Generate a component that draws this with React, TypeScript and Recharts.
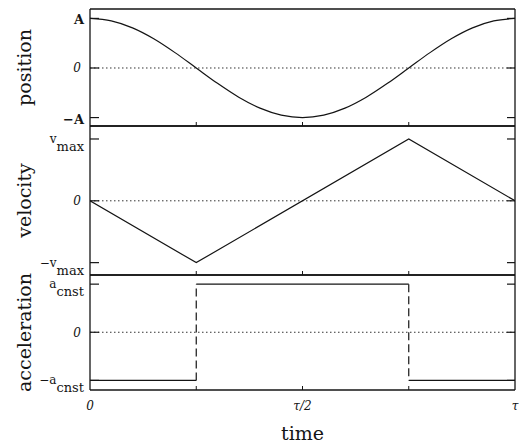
import { LineChart, Line, XAxis, YAxis, ReferenceLine } from "recharts"

const W = 519
const H = 443
const FONT = "DejaVu Serif"
const INK = "#141414"

// time samples, in units of the period τ
const TIME = [0, 0.05, 0.1, 0.15, 0.2, 0.25, 0.3, 0.35, 0.4, 0.45, 0.5, 0.55, 0.6, 0.65, 0.7, 0.75, 0.8, 0.85, 0.9, 0.95, 1]
const POSITION = [1, 0.95, 0.81, 0.59, 0.31, 0, -0.31, -0.59, -0.81, -0.95, -1, -0.95, -0.81, -0.59, -0.31, 0, 0.31, 0.59, 0.81, 0.95, 1]

const VEL_TIME = [0, 0.25, 0.75, 1]
const VELOCITY = [0, -1, 1, 0]

// step edges repeat a time so the jumps can be drawn dashed
const ACC_TIME = [0, 0.25, 0.25, 0.75, 0.75, 1]
const ACCELERATION = [-1, -1, 1, 1, -1, -1]

const Y_TICKS = [-1, 0, 1]
const POS_TICK_LABELS = ["−A", "0", "A"]
const VEL_TICK_LABELS = ["−v_max", "0", "v_max"]
const ACC_TICK_LABELS = ["−a_cnst", "0", "a_cnst"]

const X_TICKS = [0, 0.5, 1]
const X_TICK_LABELS = ["0", "τ/2", "τ"]
const X_MINOR = [0.25, 0.5, 0.75]

const positionData = TIME.map((t, i) => ({ t, v: POSITION[i] }))
const velocityData = VEL_TIME.map((t, i) => ({ t, v: VELOCITY[i] }))
const accPoints = ACC_TIME.map((t, i) => ({ t, v: ACCELERATION[i] }))
const accSolid = [accPoints.slice(0, 2), accPoints.slice(2, 4), accPoints.slice(4, 6)]
const accJumps = [accPoints.slice(1, 3), accPoints.slice(3, 5)]

const PLOT_LEFT = 90
const PLOT_RIGHT = 515

const LeftTick = (props: any) => {
  const { x, y, payload, labels } = props
  const text: string = labels[Y_TICKS.indexOf(payload.value)] ?? ""
  const [main, sub] = text.split("_")
  const isZero = main === "0"
  return (
    <g>
      <line x1={x + 6} x2={x + 15} y1={y} y2={y} stroke={INK} strokeWidth={1.2} />
      <text
        x={isZero ? x - 3 : x}
        y={y}
        textAnchor="end"
        fontFamily={FONT}
        fill={INK}
        fontSize={isZero ? 12 : 13}
        fontStyle={isZero ? "italic" : "normal"}
        fontWeight={!sub && !isZero ? "bold" : "normal"}
      >
        {sub ? (
          <>
            <tspan dy={4} fontSize={12}>{main}</tspan>
            <tspan dy={8}>{sub}</tspan>
          </>
        ) : (
          <tspan dy={isZero ? 4.5 : 6}>{main}</tspan>
        )}
      </text>
    </g>
  )
}

const RightTick = (props: any) => (
  <line x1={props.x - 8} x2={props.x} y1={props.y} y2={props.y} stroke={INK} strokeWidth={1.2} />
)

const TopTick = (props: any) => (
  <line x1={props.x} x2={props.x} y1={props.y} y2={props.y + 4} stroke={INK} strokeWidth={1} />
)

const BottomTick = (props: any) => {
  const { x, y, payload, labelled } = props
  const idx = X_TICKS.indexOf(payload.value)
  return (
    <g>
      {X_MINOR.includes(payload.value) && (
        <line x1={x} x2={x} y1={y} y2={y - 4} stroke={INK} strokeWidth={1} />
      )}
      {labelled && idx >= 0 && (
        <text x={x} y={y + 20} textAnchor="middle" fontFamily={FONT} fontSize={12} fontStyle="italic" fill={INK}>
          {X_TICK_LABELS[idx]}
        </text>
      )}
    </g>
  )
}

interface PanelProps {
  top: number
  bottom: number
  domain: [number, number]
  title: string
  tickLabels: string[]
  withTime?: boolean
  children: React.ReactNode
}

function Panel({ top, bottom, domain, title, tickLabels, withTime, children }: PanelProps) {
  const bottomAxisHeight = withTime ? 40 : 5
  const midY = (top + bottom) / 2
  return (
    <div style={{ position: "absolute", left: 0, top: 0 }}>
      <LineChart
        width={W}
        height={H}
        margin={{ top: top - 5, right: 0, bottom: H - bottom - bottomAxisHeight, left: PLOT_LEFT - 60 }}
      >
        <XAxis
          xAxisId="bottom"
          dataKey="t"
          type="number"
          domain={[0, 1]}
          allowDataOverflow
          ticks={withTime ? [0, 0.25, 0.5, 0.75, 1] : X_MINOR}
          interval={0}
          height={bottomAxisHeight}
          tickSize={0}
          tickMargin={0}
          axisLine={{ stroke: INK, strokeWidth: 1.3 }}
          tickLine={false}
          tick={(p: any) => <BottomTick {...p} labelled={withTime} />}
          label={
            withTime
              ? () => (
                  <text x={(PLOT_LEFT + PLOT_RIGHT) / 2} y={440} textAnchor="middle" fontFamily={FONT} fontSize={19} fill={INK}>
                    time
                  </text>
                )
              : undefined
          }
        />
        <XAxis
          xAxisId="top"
          orientation="top"
          type="number"
          domain={[0, 1]}
          allowDataOverflow
          ticks={X_MINOR}
          interval={0}
          height={5}
          tickSize={0}
          tickMargin={0}
          axisLine={{ stroke: INK, strokeWidth: 1.3 }}
          tickLine={false}
          tick={TopTick}
        />
        <YAxis
          yAxisId="left"
          type="number"
          domain={domain}
          allowDataOverflow
          ticks={Y_TICKS}
          interval={0}
          width={60}
          tickSize={0}
          tickMargin={6}
          axisLine={{ stroke: INK, strokeWidth: 1.3 }}
          tickLine={false}
          tick={(p: any) => <LeftTick {...p} labels={tickLabels} />}
          label={() => (
            <text
              x={24}
              y={midY}
              transform={`rotate(-90 24 ${midY})`}
              textAnchor="middle"
              dominantBaseline="central"
              fontFamily={FONT}
              fontSize={19}
              fill={INK}
            >
              {title}
            </text>
          )}
        />
        <YAxis
          yAxisId="right"
          orientation="right"
          type="number"
          domain={domain}
          allowDataOverflow
          ticks={Y_TICKS}
          interval={0}
          width={4}
          tickSize={0}
          tickMargin={0}
          axisLine={{ stroke: INK, strokeWidth: 1.3 }}
          tickLine={false}
          tick={RightTick}
        />
        <ReferenceLine
          y={0}
          xAxisId="bottom"
          yAxisId="left"
          stroke="#333"
          strokeWidth={1}
          strokeDasharray="1.5 2.5"
        />
        {children}
      </LineChart>
    </div>
  )
}

export default function App() {
  return (
    <div style={{ position: "absolute", left: 0, top: 0, width: W, height: H, background: "#fff" }}>
      <Panel top={9} bottom={126} domain={[-1.17, 1.19]} title="position" tickLabels={POS_TICK_LABELS}>
        <Line
          xAxisId="bottom"
          yAxisId="left"
          data={positionData}
          dataKey="v"
          type="monotone"
          stroke={INK}
          strokeWidth={1.2}
          dot={false}
          isAnimationActive={false}
        />
      </Panel>
      <Panel top={126} bottom={275} domain={[-1.2, 1.21]} title="velocity" tickLabels={VEL_TICK_LABELS}>
        <Line
          xAxisId="bottom"
          yAxisId="left"
          data={velocityData}
          dataKey="v"
          type="linear"
          stroke={INK}
          strokeWidth={1.2}
          dot={false}
          isAnimationActive={false}
        />
      </Panel>
      <Panel top={275} bottom={390} domain={[-1.2, 1.19]} title="acceleration" tickLabels={ACC_TICK_LABELS} withTime>
        {accSolid.map((seg, i) => (
          <Line
            key={`acc-${i}`}
            xAxisId="bottom"
            yAxisId="left"
            data={seg}
            dataKey="v"
            type="linear"
            stroke={INK}
            strokeWidth={1.2}
            dot={false}
            isAnimationActive={false}
          />
        ))}
        {accJumps.map((seg, i) => (
          <Line
            key={`jump-${i}`}
            xAxisId="bottom"
            yAxisId="left"
            data={seg}
            dataKey="v"
            type="linear"
            stroke={INK}
            strokeWidth={1.2}
            strokeDasharray="8 4"
            dot={false}
            isAnimationActive={false}
          />
        ))}
      </Panel>
    </div>
  )
}
